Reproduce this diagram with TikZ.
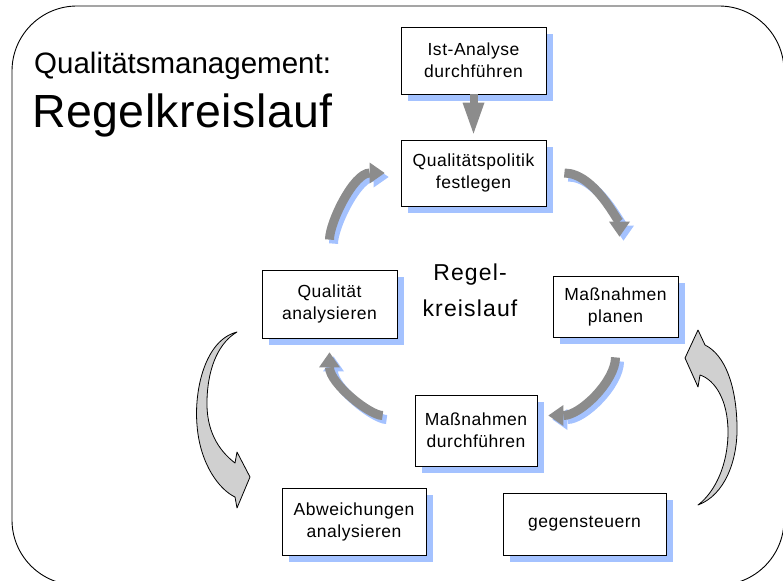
\documentclass[tikz,border=0pt]{standalone}
\usepackage{fontspec}
\setmainfont{Liberation Sans}
\newfontfamily\boxfam[LetterSpace=3]{Liberation Sans}
\newfontfamily\cyclefam[LetterSpace=5]{Liberation Sans}
\newfontfamily\headfam[LetterSpace=1]{Liberation Sans}
\usetikzlibrary{arrows.meta,shadows}

\definecolor{shadowblue}{RGB}{164,194,255}
\definecolor{arrowgray}{RGB}{140,140,140}
\definecolor{bigarrowfill}{RGB}{208,208,208}

\begin{document}
\begin{tikzpicture}[x=1pt,y=-1pt,
  stepbox/.style={draw=black, line width=0.8pt, fill=white, align=center,
    inner sep=0pt, font=\boxfam\fontsize{17.5}{22}\selectfont,
    drop shadow={shadow xshift=7pt, shadow yshift=-7pt, fill=shadowblue, opacity=1}},
  cyclearrow/.style={line width=9pt, draw=arrowgray,
    -{Triangle[length=15pt,width=21pt,line width=0pt,fill=arrowgray]}},
  cycleshadow/.style={line width=9pt, draw=shadowblue,
    -{Triangle[length=15pt,width=21pt,line width=0pt,fill=shadowblue]},
    transform canvas={shift={(4pt,-4pt)}}},
  bigarrow/.style={draw=black, line width=0.8pt, fill=bigarrowfill, line join=round},
  framebox/.style={draw=black, line width=0.9pt, rounded corners=65pt}
]
\useasboundingbox (0,0) rectangle (783,580);
\clip (0,0) rectangle (783,580);

% outer frame
\draw[framebox] (12,6) rectangle (784,585);

% headings
\node[anchor=base west, inner sep=0pt, font=\fontsize{29.5}{34}\selectfont]
  (head1) at (34,74) {Qualitätsmanagement:};
\node[anchor=base west, inner sep=0pt, font=\headfam\fontsize{46.5}{52}\selectfont]
  (head2) at (32,128) {Regelkreislauf};

% process steps
\node[stepbox, minimum width=145pt, minimum height=67pt] (ia) at (473.5,60.5)
  {Ist-Analyse\\durchführen};
\node[stepbox, minimum width=145pt, minimum height=66pt] (qp) at (473.5,173)
  {Qualitätspolitik\\festlegen};
\node[stepbox, minimum width=125pt, minimum height=61pt] (mp) at (615.5,306.5)
  {Maßnahmen\\planen};
\node[stepbox, minimum width=122pt, minimum height=71pt] (md) at (476,430.5)
  {Maßnahmen\\durchführen};
\node[stepbox, minimum width=135pt, minimum height=68pt] (qa) at (329.5,304)
  {Qualität\\analysieren};
\node[stepbox, minimum width=144pt, minimum height=67pt] (ab) at (354,521.5)
  {Abweichungen\\analysieren};
\node[stepbox, minimum width=163pt, minimum height=62pt] (gs) at (584.5,524)
  {gegensteuern};

% centre label
\node[align=center, inner sep=0pt, font=\cyclefam\fontsize{23}{36}\selectfont]
  (cyc) at (470,290) {Regel-\\kreislauf};

% entry arrow
\draw[line width=8pt, draw=arrowgray, shorten >=6pt,
  -{Triangle[length=31pt,width=22pt,line width=0pt,fill=arrowgray]}] (ia.south) -- (qp.north);

% cycle arrows: shadows first
\draw[cycleshadow, shorten <=30pt, shorten >=16pt]
  (qa.north) to[out=90, in=180] (qp.west);
\draw[cycleshadow, shorten <=18pt, shorten >=39pt]
  (qp.east) to[out=0, in=90] ([xshift=4pt]mp.north);
\draw[cycleshadow, shorten <=20pt, shorten >=11pt]
  (mp.south) to[out=-90, in=0] ([yshift=15pt]md.east);
\draw[cycleshadow, shorten <=32pt, shorten >=14pt]
  ([yshift=15pt]md.west) to[out=180, in=-90] (qa.south);

\draw[cyclearrow, shorten <=30pt, shorten >=16pt]
  (qa.north) to[out=90, in=180] (qp.west);
\draw[cyclearrow, shorten <=18pt, shorten >=39pt]
  (qp.east) to[out=0, in=90] ([xshift=4pt]mp.north);
\draw[cyclearrow, shorten <=20pt, shorten >=11pt]
  (mp.south) to[out=-90, in=0] ([yshift=15pt]md.east);
\draw[cyclearrow, shorten <=32pt, shorten >=14pt]
  ([yshift=15pt]md.west) to[out=180, in=-90] (qa.south);

% large curved side arrows
\draw[bigarrow] (237,332) .. controls (205,340) and (194,390) .. (197,425)
  .. controls (200,465) and (220,490) .. (235,497)
  -- (237,508) -- (250,477) -- (237,452) -- (235,463)
  .. controls (218,450) and (206,430) .. (207,400)
  .. controls (208,365) and (220,342) .. (237,332) -- cycle;
\draw[bigarrow] (698,505) .. controls (725,495) and (738,460) .. (737,425)
  .. controls (736,385) and (725,355) .. (705,345)
  -- (698,330) -- (685,358) -- (698,387) -- (700,375)
  .. controls (715,380) and (728,400) .. (728,432)
  .. controls (728,465) and (715,492) .. (698,505) -- cycle;
\end{tikzpicture}
\end{document}
